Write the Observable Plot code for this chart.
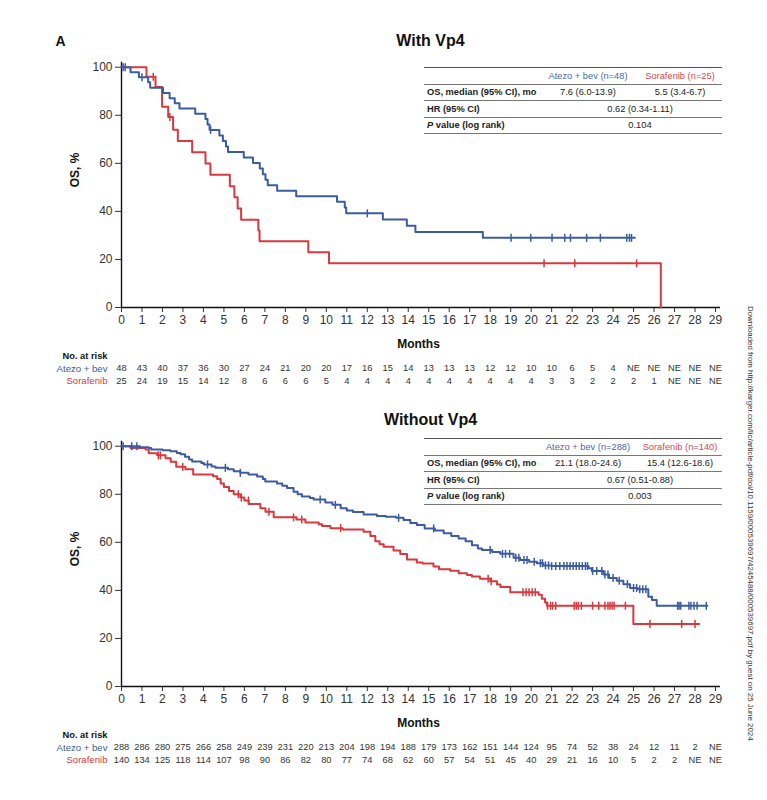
<!DOCTYPE html>
<html>
<head>
<meta charset="utf-8">
<script src="https://cdn.jsdelivr.net/npm/d3@7"></script>
<script src="https://cdn.jsdelivr.net/npm/@observablehq/plot@0.6"></script>
<style>
  body { margin: 0; background: #fff; font-family: "Liberation Sans", Arial, sans-serif; }
  #page { position: relative; width: 767px; height: 800px; overflow: hidden; background: #fff; }
  .chart { position: absolute; left: 0; }
  table.stats { position: absolute; left: 424px; width: 298px; border-collapse: collapse; table-layout: fixed;
    font-size: 9.3px; color: #222; border-top: 1.3px solid #555; }
  table.stats td { height: 15.5px; padding: 0; border-bottom: 1.1px solid #777; white-space: nowrap; }
  table.stats td.lab { font-weight: bold; padding-left: 3px; }
  table.stats td.c2 { text-align: center; }
  table.stats td.c3 { text-align: center; padding-left: 7px; }
  table.stats td.m { text-align: center; padding-left: 13px; }
  .hb { color: #4a67a8; }
  .hr { color: #d8474d; }
  #src { position: absolute; left: 746px; top: 306px; writing-mode: vertical-rl; font-size: 7.9px; color: #333; white-space: nowrap; }
</style>
</head>
<body>
<div id="page">
  <div id="chart1" class="chart" style="top:0"></div>
  <div id="chart2" class="chart" style="top:379px"></div>
  <table class="stats" style="top:67px">
    <colgroup><col style="width:121px"><col style="width:86px"><col style="width:91px"></colgroup>
    <tr><td></td><td class="c2 hb">Atezo + bev (n=48)</td><td class="c3 hr">Sorafenib (n=25)</td></tr>
    <tr><td class="lab">OS, median (95% CI), mo</td><td class="c2">7.6 (6.0-13.9)</td><td class="c3">5.5 (3.4-6.7)</td></tr>
    <tr><td class="lab">HR (95% CI)</td><td class="m" colspan="2">0.62 (0.34-1.11)</td></tr>
    <tr><td class="lab"><i>P</i> value (log rank)</td><td class="m" colspan="2">0.104</td></tr>
  </table>
  <table class="stats" style="top:438px">
    <colgroup><col style="width:121px"><col style="width:86px"><col style="width:91px"></colgroup>
    <tr><td></td><td class="c2 hb">Atezo + bev (n=288)</td><td class="c3 hr">Sorafenib (n=140)</td></tr>
    <tr><td class="lab">OS, median (95% CI), mo</td><td class="c2">21.1 (18.0-24.6)</td><td class="c3">15.4 (12.6-18.6)</td></tr>
    <tr><td class="lab">HR (95% CI)</td><td class="m" colspan="2">0.67 (0.51-0.88)</td></tr>
    <tr><td class="lab"><i>P</i> value (log rank)</td><td class="m" colspan="2">0.003</td></tr>
  </table>
  <div id="src">Downloaded from http://karger.com/lic/article-pdf/doi/10.1159/000539697/4245488/000539697.pdf by guest on 25 June 2024</div>
</div>
<script>
// Axis ticks
const monthTicks = [0,1,2,3,4,5,6,7,8,9,10,11,12,13,14,15,16,17,18,19,20,21,22,23,24,25,26,27,28,29];
const osTicks = [0, 20, 40, 60, 80, 100];

// Kaplan–Meier steps [month, OS %], with Vp4
const atezoVp4 = [[0,100],[0.44,97.9],[0.85,95.8],[1.3,93.7],[1.4,91.5],[2.03,89.3],[2.35,87.1],[2.6,85.0],[2.83,82.8],
  [3.6,80.6],[4.1,78.4],[4.2,76.2],[4.3,73.9],[4.78,71.6],[4.95,69.3],[5.1,67.0],[5.2,64.7],[5.97,62.4],[6.42,60.1],
  [6.75,57.8],[6.9,55.5],[7.03,53.2],[7.14,50.9],[7.6,48.6],[8.53,46.3],[10.52,44.0],[10.9,41.6],[10.97,39.2],
  [12.76,36.6],[13.93,34.0],[14.35,31.4],[17.64,29.0],[25.07,29.0]];
const sorafenibVp4 = [[0,100],[1.22,96.0],[1.66,91.8],[1.98,83.5],[2.28,79.3],[2.52,74.0],[2.75,69.3],[3.45,64.6],
  [4.1,59.9],[4.34,55.2],[5.29,50.5],[5.51,45.9],[5.67,41.2],[5.84,36.5],[6.68,32.0],[6.74,27.6],[9.12,23.0],
  [10.13,18.4],[26.33,0]];
const atezoVp4Censored = [0.08, 0.18, 1.0, 4.35, 12.0, 19.02, 19.98, 21.02, 21.64, 21.92, 22.71, 23.38, 24.67, 24.8, 24.9];
const sorafenibVp4Censored = [1.55, 2.36, 20.63, 22.13, 25.15];

// Kaplan–Meier steps [month, OS %], without Vp4
const atezoNoVp4 = [[0,100],[0.9,99.6],[1.33,99.3],[1.45,98.6],[2.0,98.3],[2.39,97.9],[2.7,97.2],[2.88,96.6],[3.1,95.6],
  [3.3,94.5],[3.45,93.6],[3.9,93.0],[4.02,92.4],[4.4,91.6],[4.59,91.0],[5.2,90.4],[5.48,89.6],[5.8,88.9],[6.2,88.2],
  [6.62,87.4],[6.9,86.4],[7.02,85.3],[7.59,84.5],[7.85,83.5],[8.08,82.6],[8.4,81.0],[8.6,80.0],[8.81,79.1],[9.2,78.4],
  [9.38,77.8],[9.95,76.6],[10.3,75.6],[10.7,74.2],[11.0,73.2],[11.3,72.6],[11.82,71.6],[12.47,71.0],[12.9,70.6],
  [13.4,70.2],[13.77,69.3],[14.1,68.0],[14.42,67.2],[14.8,65.8],[15.3,64.9],[15.73,63.8],[16.1,62.6],[16.46,61.6],
  [16.8,60.4],[17.11,58.8],[17.4,57.4],[17.6,56.8],[18.1,56.0],[18.49,55.2],[19.14,53.6],[19.46,52.6],[19.9,51.9],
  [20.28,51.3],[20.6,50.4],[21.0,50.1],[22.8,49.2],[22.96,48.1],[23.53,46.6],[23.8,45.2],[24.18,44.0],[24.5,42.6],
  [24.83,41.0],[25.2,40.5],[25.72,37.3],[25.9,36.0],[26.13,33.6],[28.6,33.6]];
const sorafenibNoVp4 = [[0,100],[0.44,99.3],[1.17,98.6],[1.33,97.1],[1.74,96.2],[2.15,95.0],[2.4,93.5],[2.67,91.4],
  [3.12,90.4],[3.5,88.2],[4.47,87.5],[4.67,86.3],[4.84,84.5],[5.0,83.0],[5.25,81.4],[5.48,80.0],[5.8,78.6],[6.0,77.4],
  [6.21,75.9],[6.78,74.2],[7.03,72.7],[7.43,70.4],[8.54,69.5],[8.98,68.2],[9.63,67.5],[9.79,66.8],[10.2,65.9],
  [10.8,65.3],[11.82,64.4],[12.15,62.6],[12.39,60.4],[12.6,59.2],[12.8,58.2],[13.28,56.6],[13.61,55.1],[13.94,52.8],
  [14.42,51.6],[14.7,51.2],[15.23,49.9],[15.5,48.8],[16.05,48.2],[16.46,47.1],[16.87,46.4],[17.11,45.8],[17.5,44.8],
  [18.0,43.8],[18.33,42.4],[18.5,41.4],[18.98,39.2],[20.36,38.2],[20.52,36.5],[20.68,35.0],[20.77,33.6],[24.99,26.0],
  [28.2,26.0]];
const atezoNoVp4Censored = [0.08, 0.5, 0.75, 4.2, 5.07, 5.8, 9.7, 10.44, 13.53, 15.24, 18.0, 18.6, 18.75, 18.95, 19.25,
  19.4, 19.65, 19.8, 20.15, 20.45, 20.55, 20.7, 20.85, 21.0, 21.2, 21.4, 21.6, 21.75, 21.9, 22.05, 22.2, 22.35, 22.5,
  22.65, 22.75, 23.0, 23.2, 23.45, 23.6, 23.75, 24.0, 24.3, 24.7, 25.0, 25.15, 25.3, 25.45, 25.6, 27.15, 27.22, 27.3,
  27.7, 27.8, 27.95, 28.1, 28.55];
const sorafenibNoVp4Censored = [1.8, 1.9, 2.99, 5.7, 5.85, 6.2, 7.2, 8.4, 8.8, 10.7, 17.9, 18.05, 19.6, 19.75, 19.9,
  20.05, 20.2, 20.8, 20.95, 21.05, 21.2, 22.1, 22.2, 22.3, 22.45, 23.0, 23.3, 23.6, 23.75, 23.85, 23.95, 24.05, 24.6,
  25.8, 27.35, 28.0];

// Number at risk at each month
const atezoVp4Risk = ["48","43","40","37","36","30","27","24","21","20","20","17","16","15","14","13","13","13","12","12","10","10","6","5","4","NE","NE","NE","NE","NE"];
const sorafenibVp4Risk = ["25","24","19","15","14","12","8","6","6","6","5","4","4","4","4","4","4","4","4","4","4","3","3","2","2","2","1","NE","NE","NE"];
const atezoNoVp4Risk = ["288","286","280","275","266","258","249","239","231","220","213","204","198","194","188","179","173","162","151","144","124","95","74","52","38","24","12","11","2","NE"];
const sorafenibNoVp4Risk = ["140","134","125","118","114","107","98","90","86","82","80","77","74","68","62","60","57","54","51","45","40","29","21","16","10","5","2","2","NE","NE"];

const blue = "#3b5ca2";
const red = "#d8383e";

// Vertical tick used for censored observations
const censorTick = {
  draw(context, size) {
    const h = Math.sqrt(size / Math.PI);
    context.moveTo(0, -h);
    context.lineTo(0, h);
  }
};

function survivalAt(steps, t) {
  let s = steps[0][1];
  for (const [tt, ss] of steps) { if (tt <= t) s = ss; else break; }
  return s;
}

function kmChart({title, panel, atezo, sorafenib, atezoCens, sorafenibCens, atezoRisk, sorafenibRisk}) {
  const cens = (steps, times) => times.map(t => [t, survivalAt(steps, t)]);
  const riskRow = vals => monthTicks.map((m, i) => ({m, v: vals[i]}));
  const label = {lineAnchor: "middle", fill: "#111"};
  const marks = [
    Plot.ruleY([0], {stroke: "#111", strokeWidth: 1.4, insetRight: -5}),
    Plot.ruleX([0], {stroke: "#111", strokeWidth: 1.4, insetTop: -5}),
    Plot.line(sorafenib, {x: d => d[0], y: d => d[1], curve: "step-after", stroke: red, strokeWidth: 2}),
    Plot.dot(cens(sorafenib, sorafenibCens), {x: d => d[0], y: d => d[1], symbol: censorTick, r: 4, stroke: red, strokeWidth: 1.5, fill: "none"}),
    Plot.line(atezo, {x: d => d[0], y: d => d[1], curve: "step-after", stroke: blue, strokeWidth: 2}),
    Plot.dot(cens(atezo, atezoCens), {x: d => d[0], y: d => d[1], symbol: censorTick, r: 4, stroke: blue, strokeWidth: 1.5, fill: "none"}),
    Plot.text([title], {...label, frameAnchor: "top", dx: 12, dy: -26, fontWeight: "bold", fontSize: 16}),
    Plot.text(["OS, %"], {...label, frameAnchor: "left", dx: -46, rotate: -90, fontWeight: "bold", fontSize: 12}),
    Plot.text(["Months"], {...label, frameAnchor: "bottom", dy: 37, fontWeight: "bold", fontSize: 12}),
    Plot.text(["No. at risk"], {...label, frameAnchor: "bottom-left", dx: -14, dy: 49, textAnchor: "end", fontWeight: "bold", fontSize: 9.3}),
    Plot.text(["Atezo + bev"], {...label, frameAnchor: "bottom-left", dx: -14, dy: 61, textAnchor: "end", fontSize: 9.6, fill: blue}),
    Plot.text(["Sorafenib"], {...label, frameAnchor: "bottom-left", dx: -14, dy: 73.5, textAnchor: "end", fontSize: 9.6, fill: red}),
    Plot.text(riskRow(atezoRisk), {...label, x: "m", frameAnchor: "bottom", dy: 61, text: "v", fontSize: 9.3, fill: "#333"}),
    Plot.text(riskRow(sorafenibRisk), {...label, x: "m", frameAnchor: "bottom", dy: 73.5, text: "v", fontSize: 9.3, fill: "#333"})
  ];
  if (panel) marks.push(Plot.text([panel], {...label, frameAnchor: "top-left", dx: -66, dy: -26, textAnchor: "start", fontWeight: "bold", fontSize: 14}));
  return Plot.plot({
    width: 767,
    height: 379,
    marginLeft: 121,
    marginRight: 52,
    marginTop: 66.7,
    marginBottom: 72,
    style: {fontFamily: "'Liberation Sans', Arial, sans-serif", fontSize: "12px", color: "#333", background: "transparent", overflow: "visible"},
    x: {domain: [0, 29], ticks: monthTicks, tickSize: 5, tickPadding: 3, tickFormat: d => String(d), label: null},
    y: {domain: [0, 100], ticks: osTicks, tickSize: 6, tickPadding: 3, label: null},
    marks
  });
}

document.getElementById("chart1").appendChild(kmChart({
  title: "With Vp4", panel: "A",
  atezo: atezoVp4, sorafenib: sorafenibVp4,
  atezoCens: atezoVp4Censored, sorafenibCens: sorafenibVp4Censored,
  atezoRisk: atezoVp4Risk, sorafenibRisk: sorafenibVp4Risk
}));
document.getElementById("chart2").appendChild(kmChart({
  title: "Without Vp4",
  atezo: atezoNoVp4, sorafenib: sorafenibNoVp4,
  atezoCens: atezoNoVp4Censored, sorafenibCens: sorafenibNoVp4Censored,
  atezoRisk: atezoNoVp4Risk, sorafenibRisk: sorafenibNoVp4Risk
}));
</script>
</body>
</html>
